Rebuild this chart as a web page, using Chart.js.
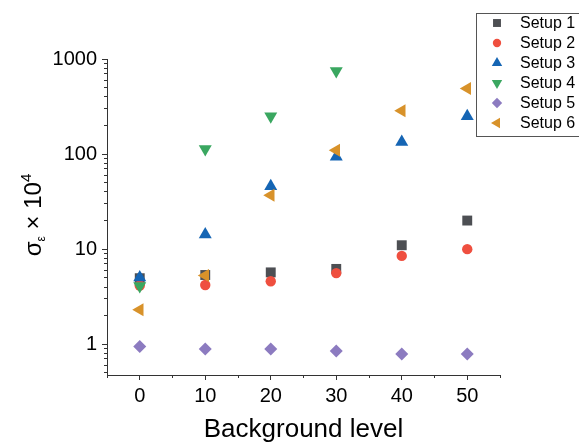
<!DOCTYPE html>
<html>
<head>
<meta charset="utf-8">
<script src="https://cdn.jsdelivr.net/npm/chart.js@4.4.1/dist/chart.umd.min.js"></script>
<style>
  html, body { margin: 0; padding: 0; background: #fff; }
  #wrap { width: 579px; height: 445px; position: relative; }
</style>
</head>
<body>
<div id="wrap"><canvas id="chart"></canvas></div>
<script>
// ===== Data =====
const backgroundLevels = [0, 10, 20, 30, 40, 50];
const setup1 = [4.95, 5.35, 5.7, 6.2, 11, 20];
const setup2 = [4.15, 4.2, 4.6, 5.6, 8.5, 10];
const setup3 = [5.05, 14.3, 46, 94, 134, 250];
const setup4 = [4.1, 113, 250, 750];
const setup5 = [0.95, 0.89, 0.89, 0.85, 0.79, 0.79];
const setup6 = [2.3, 5.3, 37, 110, 285, 490];

const xTickValues = [0, 10, 20, 30, 40, 50];
const yTickValues = [1, 10, 100, 1000];

const FONT = "'Liberation Sans', Arial, sans-serif";
const AXIS_COLOR = '#333333';

function toPoints(values) {
    return values.map((v, i) => ({ x: backgroundLevels[i], y: v }));
}

// marker definitions per series
const series = [
    { label: 'Setup 1', data: setup1, color: '#4d4f53', style: 'rect', radius: 7, rotation: 0 },
    { label: 'Setup 2', data: setup2, color: '#ef4f3f', style: 'circle', radius: 5.2, rotation: 0 },
    { label: 'Setup 3', data: setup3, color: '#1565b4', style: 'triangle', radius: 7.5, rotation: 0 },
    { label: 'Setup 4', data: setup4, color: '#3aa760', style: 'triangle', radius: 7.5, rotation: 180 },
    { label: 'Setup 5', data: setup5, color: '#8c7bc0', style: 'rectRot', radius: 6.5, rotation: 0 },
    { label: 'Setup 6', data: setup6, color: '#d8922a', style: 'triangle', radius: 7.5, rotation: 270 }
];

const datasets = series.map((s, i) => ({
    label: s.label,
    data: toPoints(s.data),
    backgroundColor: s.color,
    borderColor: s.color,
    borderWidth: 0,
    pointStyle: s.style,
    pointRadius: s.radius,
    pointRotation: s.rotation,
    order: series.length - i,
    xAxisID: 'x',
    yAxisID: 'y'
}));

// ===== Titles + legend drawn on top =====
const overlayPlugin = {
    id: 'overlay',
    afterDraw(chart) {
        const ctx = chart.ctx;
        const area = chart.chartArea;

        // x title
        ctx.save();
        ctx.fillStyle = '#000';
        ctx.font = '26px ' + FONT;
        ctx.textAlign = 'center';
        ctx.textBaseline = 'alphabetic';
        ctx.fillText('Background level', (area.left + area.right) / 2, 437);
        ctx.restore();

        // y title: sigma_eps x 10^4
        ctx.save();
        ctx.translate(41, (area.top + area.bottom) / 2 - 2);
        ctx.rotate(-Math.PI / 2);
        ctx.fillStyle = '#000';
        ctx.textBaseline = 'alphabetic';
        ctx.textAlign = 'left';
        const parts = [
            { t: '\u03c3', f: '24px', dy: 0 },
            { t: '\u03b5', f: '12px', dy: 4 },
            { t: ' \u00d7 10', f: '24px', dy: 0 },
            { t: '4', f: '15px', dy: -10 }
        ];
        let total = 0;
        parts.forEach(p => { ctx.font = p.f + ' ' + FONT; p.w = ctx.measureText(p.t).width; total += p.w; });
        let x = -total / 2;
        parts.forEach(p => {
            ctx.font = p.f + ' ' + FONT;
            ctx.fillText(p.t, x, p.dy);
            x += p.w;
        });
        ctx.restore();

        // legend box (runs past the right edge, like the reference)
        ctx.save();
        ctx.fillStyle = '#fff';
        ctx.strokeStyle = '#555';
        ctx.lineWidth = 1;
        ctx.fillRect(476.5, 13.5, 120, 123);
        ctx.strokeRect(476.5, 13.5, 120, 123);
        ctx.font = '16px ' + FONT;
        ctx.textBaseline = 'middle';
        ctx.textAlign = 'left';
        series.forEach((s, i) => {
            const y = 23 + i * 20;
            ctx.fillStyle = s.color;
            ctx.strokeStyle = s.color;
            Chart.helpers.drawPoint(ctx, {
                pointStyle: s.style,
                radius: s.radius * 0.8,
                rotation: s.rotation,
                borderWidth: 0
            }, 497, y);
            ctx.fillStyle = '#000';
            ctx.fillText(s.label, 520, y + 1);
        });
        ctx.restore();
    }
};

// ===== Chart =====
const ctx = document.getElementById('chart').getContext('2d');
const chart = new Chart(ctx, {
    type: 'scatter',
    data: { datasets: datasets },
    options: {
        responsive: true,
        maintainAspectRatio: false,
        animation: false,
        layout: { padding: { left: 0, right: 79, top: 59, bottom: 0 } },
        plugins: {
            legend: { display: false },
            tooltip: { enabled: false }
        },
        scales: {
            // minor tick axes (innermost, zero size)
            xMinor: {
                type: 'linear',
                position: 'bottom',
                min: -5,
                max: 55,
                afterBuildTicks: (scale) => {
                    scale.ticks = xTickValues.map(v => ({ value: v - 5 })).concat([{ value: 55 }]);
                },
                afterFit: (scale) => { scale.height = 0; },
                ticks: { display: false },
                border: { display: false },
                grid: { drawOnChartArea: false, tickLength: 3, tickColor: AXIS_COLOR, tickWidth: 1 }
            },
            yMinor: {
                type: 'logarithmic',
                position: 'left',
                min: 0.475,
                max: 1000,
                afterBuildTicks: (scale) => {
                    const t = [];
                    [0.1, 1, 10, 100].forEach(d => {
                        for (let m = 1; m <= 9; m++) {
                            const v = d * m;
                            if (v >= 0.475 && v <= 1000) t.push({ value: v });
                        }
                    });
                    scale.ticks = t;
                },
                afterFit: (scale) => { scale.width = 0; },
                ticks: { display: false },
                border: { display: false },
                grid: { drawOnChartArea: false, tickLength: 3, tickColor: AXIS_COLOR, tickWidth: 1 }
            },
            x: {
                type: 'linear',
                position: 'bottom',
                min: -5,
                max: 55,
                afterBuildTicks: (scale) => {
                    scale.ticks = xTickValues.map(v => ({ value: v }));
                },
                afterFit: (scale) => { scale.height = 70; },
                ticks: {
                    color: '#000',
                    font: { family: FONT, size: 20 },
                    padding: 4,
                    maxRotation: 0
                },
                border: { display: true, color: AXIS_COLOR, width: 1 },
                grid: { drawOnChartArea: false, tickLength: 5, tickColor: AXIS_COLOR, tickWidth: 1 }
            },
            y: {
                type: 'logarithmic',
                position: 'left',
                min: 0.475,
                max: 1000,
                afterBuildTicks: (scale) => {
                    scale.ticks = yTickValues.map(v => ({ value: v }));
                },
                afterFit: (scale) => { scale.width = 107; },
                ticks: {
                    color: '#000',
                    font: { family: FONT, size: 20 },
                    padding: 5,
                    callback: (v) => String(v)
                },
                border: { display: true, color: AXIS_COLOR, width: 1 },
                grid: { drawOnChartArea: false, tickLength: 5, tickColor: AXIS_COLOR, tickWidth: 1 }
            }
        }
    },
    plugins: [overlayPlugin]
});
</script>
</body>
</html>
